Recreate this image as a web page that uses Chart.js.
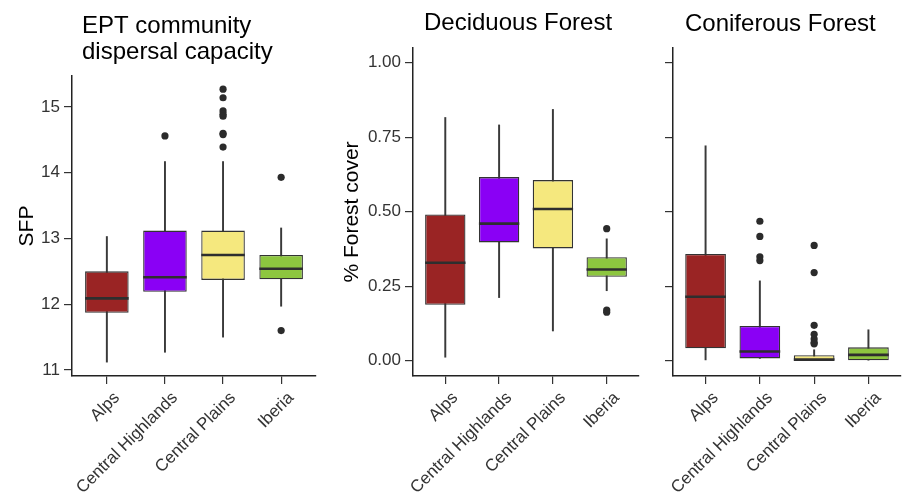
<!DOCTYPE html>
<html><head><meta charset="utf-8">
<script src="https://cdn.jsdelivr.net/npm/chart.js@4.4.1/dist/chart.umd.min.js"></script>
<style>
html,body{margin:0;padding:0;background:#fff;overflow:hidden;width:905px;height:493px}
canvas{position:absolute;top:0}
</style></head><body>
<canvas id="c1" width="320" height="493" style="left:0"></canvas>
<canvas id="c2" width="323" height="493" style="left:320px"></canvas>
<canvas id="c3" width="262" height="493" style="left:643px"></canvas>
<script>
// ---- data ----
const categories = ['Alps', 'Central Highlands', 'Central Plains', 'Iberia'];
const boxColors = ['#9a2424', '#8a00f5', '#f5e87e', '#8dc63f'];

const sfpTicks = [11, 12, 13, 14, 15];
const sfpTickLabels = ['11', '12', '13', '14', '15'];
const sfpLow  = [11.12, 11.27, 11.50, 11.97];
const sfpQ1   = [11.87, 12.19, 12.37, 12.38];
const sfpMed  = [12.09, 12.41, 12.75, 12.54];
const sfpQ3   = [12.50, 13.12, 13.12, 12.75];
const sfpHigh = [13.03, 14.17, 14.17, 13.16];
const sfpOut  = [[], [14.56], [15.27, 15.14, 14.94, 14.89, 14.86, 14.60, 14.58, 14.39], [13.93, 11.60]];

const coverTicks = [0, 0.25, 0.5, 0.75, 1.0];
const coverTickLabels = ['0.00', '0.25', '0.50', '0.75', '1.00'];
const decLow  = [0.012, 0.212, 0.100, 0.235];
const decQ1   = [0.188, 0.397, 0.377, 0.282];
const decMed  = [0.329, 0.460, 0.509, 0.306];
const decQ3   = [0.491, 0.616, 0.606, 0.347];
const decHigh = [0.816, 0.791, 0.843, 0.409];
const decOut  = [[], [], [], [0.443, 0.170, 0.163]];

const conLow  = [0.003, 0.008, 0.000, 0.000];
const conQ1   = [0.042, 0.008, 0.000, 0.000];
const conMed  = [0.215, 0.031, 0.004, 0.020];
const conQ3   = [0.358, 0.117, 0.019, 0.045];
const conHigh = [0.721, 0.268, 0.037, 0.104];
const conOut  = [[], [0.468, 0.417, 0.349, 0.336], [0.387, 0.296, 0.119, 0.089, 0.073, 0.061, 0.057], []];

// ---- rendering ----
const FONT = "'Liberation Sans', Arial, sans-serif";

const titlePlugin = {
  id: 'panelTitle',
  afterDraw(chart, args, opts) {
    const ctx = chart.ctx;
    ctx.save();
    ctx.fillStyle = '#000';
    ctx.font = '24px ' + FONT;
    ctx.textBaseline = 'middle';
    ctx.textAlign = 'left';
    (opts.lines || []).forEach((t, i) => {
      ctx.fillText(t, chart.chartArea.left + opts.dx, opts.y0 + i * opts.gap);
    });
    ctx.restore();
  }
};

function makePanel(id, p) {
  const xs = categories.map((c, i) => i + 1);
  const outPts = [];
  p.out.forEach((arr, i) => arr.forEach(v => outPts.push({x: i + 1, y: v})));
  return new Chart(document.getElementById(id), {
    type: 'bar',
    data: {
      datasets: [
        {
          label: 'whisker',
          data: xs.map((x, i) => ({x, y: [p.low[i], p.high[i]]})),
          backgroundColor: '#3a3a3a',
          borderWidth: 0,
          grouped: false,
          categoryPercentage: 1,
          barPercentage: 1,
          maxBarThickness: 1.3,
          order: 4
        },
        {
          label: 'box',
          data: xs.map((x, i) => ({x, y: [p.q1[i], p.q3[i]]})),
          backgroundColor: boxColors,
          borderColor: '#333',
          borderWidth: 1.3,
          borderSkipped: false,
          grouped: false,
          categoryPercentage: 1,
          barPercentage: 0.75,
          order: 3
        },
        {
          type: 'line',
          label: 'median',
          data: xs.map((x, i) => ({x, y: p.med[i]})),
          showLine: false,
          pointStyle: 'line',
          pointBorderColor: '#2e2e2e',
          pointBorderWidth: 2.6,
          pointRadius: (c) => {
            const s = c.chart.scales.x;
            return Math.abs(s.getPixelForValue(1.375) - s.getPixelForValue(1));
          },
          order: 2
        },
        {
          type: 'line',
          label: 'outliers',
          data: outPts,
          showLine: false,
          pointStyle: 'circle',
          pointRadius: 3.6,
          pointBackgroundColor: '#2b2b2b',
          pointBorderWidth: 0,
          order: 1
        }
      ]
    },
    options: {
      responsive: false,
      animation: false,
      events: [],
      layout: {padding: {left: 0, top: p.top, right: p.right, bottom: 0}},
      plugins: {
        legend: {display: false},
        tooltip: {enabled: false},
        panelTitle: {lines: p.title, dx: p.titleDx, y0: p.titleY, gap: 26}
      },
      scales: {
        x: {
          type: 'linear',
          min: 0.4,
          max: 4.6,
          offset: false,
          afterBuildTicks: (s) => { s.ticks = xs.map(v => ({value: v})); },
          afterFit: (s) => { s.height = 493 - p.bottom; },
          grid: {offset: false, drawOnChartArea: false, drawTicks: true, tickLength: 8, color: '#333', lineWidth: 1.2},
          border: {display: true, color: '#222', width: 1.5},
          ticks: {
            autoSkip: false,
            maxRotation: 45,
            minRotation: 45,
            padding: 4,
            labelOffset: 10,
            color: '#333',
            font: {size: 17, family: FONT},
            callback: (v) => categories[Math.round(v) - 1]
          }
        },
        y: {
          type: 'linear',
          min: p.ymin,
          max: p.ymax,
          afterBuildTicks: (s) => { s.ticks = p.ticks.map(v => ({value: v})); },
          afterFit: (s) => { s.width = p.yWidth; },
          grid: {drawOnChartArea: false, drawTicks: true, tickLength: 8, color: '#333', lineWidth: 1.2},
          border: {display: true, color: '#222', width: 1.5},
          ticks: {
            padding: 4,
            color: '#333',
            font: {size: 17, family: FONT},
            callback: (v) => {
              const k = p.ticks.indexOf(v);
              return p.tickLabels ? p.tickLabels[k] : '';
            }
          },
          title: p.ytitle ? {
            display: true,
            text: p.ytitle,
            color: '#000',
            font: {size: 21, family: FONT},
            padding: {top: p.ytitlePad, bottom: 0}
          } : {display: false}
        }
      }
    },
    plugins: [titlePlugin]
  });
}

makePanel('c1', {
  low: sfpLow, q1: sfpQ1, med: sfpMed, q3: sfpQ3, high: sfpHigh, out: sfpOut,
  ticks: sfpTicks, tickLabels: sfpTickLabels, ymin: 10.909, ymax: 15.471,
  top: 76, right: 2, bottom: 376, yWidth: 72,
  ytitle: 'SFP', ytitlePad: 15,
  title: ['EPT community', 'dispersal capacity'], titleDx: 10, titleY: 26
});
makePanel('c2', {
  low: decLow, q1: decQ1, med: decMed, q3: decQ3, high: decHigh, out: decOut,
  ticks: coverTicks, tickLabels: coverTickLabels, ymin: -0.051, ymax: 1.049,
  top: 48, right: 0, bottom: 376, yWidth: 93,
  ytitle: '% Forest cover', ytitlePad: 20,
  title: ['Deciduous Forest'], titleDx: 11, titleY: 23
});
makePanel('c3', {
  low: conLow, q1: conQ1, med: conMed, q3: conQ3, high: conHigh, out: conOut,
  ticks: coverTicks, tickLabels: null, ymin: -0.051, ymax: 1.049,
  top: 48, right: 0, bottom: 376, yWidth: 30,
  ytitle: null,
  title: ['Coniferous Forest'], titleDx: 12, titleY: 24
});
</script>
</body></html>
